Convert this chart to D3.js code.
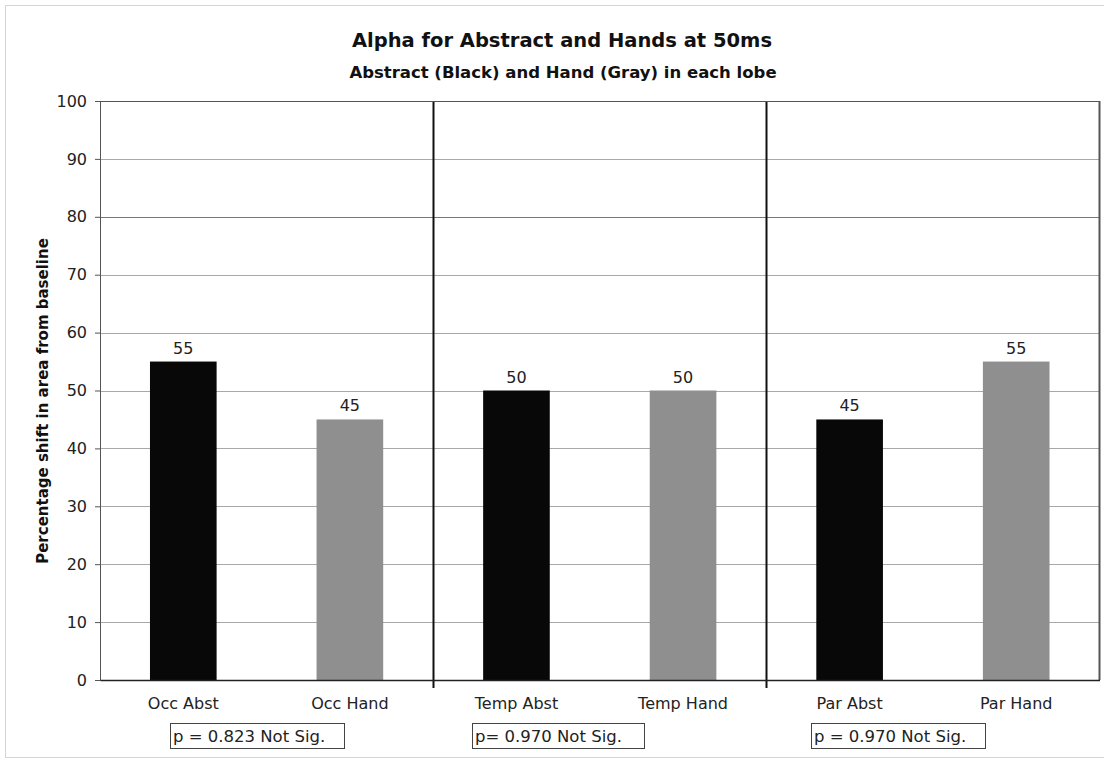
<!DOCTYPE html>
<html>
<head>
<meta charset="utf-8">
<script src="https://cdn.jsdelivr.net/npm/d3@7"></script>
<style>
  html, body { margin: 0; padding: 0; background: #ffffff; }
  svg { display: block; font-family: "DejaVu Sans", Verdana, sans-serif; }
</style>
</head>
<body>
<div id="chart"></div>
<script>
// Data
const categories = ["Occ Abst", "Occ Hand", "Temp Abst", "Temp Hand", "Par Abst", "Par Hand"];
const values = [55, 45, 50, 50, 45, 55];
const barKinds = ["abstract", "hand", "abstract", "hand", "abstract", "hand"];
const yTicks = [0, 10, 20, 30, 40, 50, 60, 70, 80, 90, 100];
const groupNotes = ["p = 0.823 Not Sig.", "p= 0.970 Not Sig.", "p = 0.970 Not Sig."];

const W = 1104, H = 760;
const margin = { top: 101, right: 4, bottom: 80, left: 100 };
const width = W - margin.left - margin.right,
      height = H - margin.top - margin.bottom;

const svg = d3.select("#chart")
    .append("svg")
    .attr("width", W)
    .attr("height", H);

// outer chart frame (dotted)
svg.append("rect")
    .attr("x", 5.5)
    .attr("y", 5.5)
    .attr("width", W + 20)
    .attr("height", H - 8)
    .attr("fill", "#fff")
    .attr("stroke", "#aaa")
    .attr("stroke-dasharray", "1,1");

// Titles
svg.append("text")
    .attr("x", 562)
    .attr("y", 47)
    .attr("text-anchor", "middle")
    .style("font-size", "19.5px")
    .style("font-weight", "bold")
    .style("fill", "#111")
    .text("Alpha for Abstract and Hands at 50ms");

svg.append("text")
    .attr("x", 563)
    .attr("y", 78)
    .attr("text-anchor", "middle")
    .style("font-size", "16.5px")
    .style("font-weight", "bold")
    .style("fill", "#111")
    .text("Abstract (Black) and Hand (Gray) in each lobe");

const g = svg.append("g")
    .attr("transform", `translate(${margin.left},${margin.top})`);

// Scales
const x = d3.scaleBand()
    .domain(categories)
    .range([0, width - 0.5])
    .paddingInner(0.6)
    .paddingOuter(0.3);

const band = (width - 0.5) / categories.length;

const y = d3.scaleLinear()
    .domain([0, 100])
    .range([height, 0]);

// Gridlines
g.selectAll(".grid")
    .data(yTicks.filter(t => t > 0 && t < 100))
    .join("line")
    .attr("class", "grid")
    .attr("x1", 0)
    .attr("x2", width - 0.5)
    .attr("y1", d => Math.round(y(d)) + 0.5)
    .attr("y2", d => Math.round(y(d)) + 0.5)
    .attr("stroke", d => d === 80 ? "#777" : "#a8a8a8")
    .attr("stroke-width", 1);

// Bars
const fillFor = k => k === "abstract" ? "#080808" : "#8f8f8f";

g.selectAll(".bar")
    .data(categories)
    .join("rect")
    .attr("class", "bar")
    .attr("x", d => x(d))
    .attr("width", x.bandwidth())
    .attr("y", (d, i) => y(values[i]))
    .attr("height", (d, i) => height - y(values[i]))
    .attr("fill", (d, i) => fillFor(barKinds[i]));

// Value labels
g.selectAll(".val")
    .data(categories)
    .join("text")
    .attr("class", "val")
    .attr("x", d => x(d) + x.bandwidth() / 2)
    .attr("y", (d, i) => y(values[i]) - 8)
    .attr("text-anchor", "middle")
    .style("font-size", "16px")
    .style("fill", "#222")
    .text((d, i) => values[i]);

// Group separators
g.selectAll(".sep")
    .data([2, 4])
    .join("line")
    .attr("class", "sep")
    .attr("x1", d => Math.round(d * band) + 0.5)
    .attr("x2", d => Math.round(d * band) + 0.5)
    .attr("y1", 0)
    .attr("y2", height + 8)
    .attr("stroke", "#111")
    .attr("stroke-width", 2);

// Plot frame: top and right
g.append("line")
    .attr("x1", 0).attr("x2", width - 0.5)
    .attr("y1", 0.5).attr("y2", 0.5)
    .attr("stroke", "#555");
g.append("line")
    .attr("x1", width - 0.5).attr("x2", width - 0.5)
    .attr("y1", 0).attr("y2", height)
    .attr("stroke", "#555")
    .attr("stroke-width", 2);

// Y axis
const yAxis = g.append("g")
    .call(d3.axisLeft(y).tickValues(yTicks).tickSize(5).tickPadding(8));
yAxis.select(".domain").attr("stroke", "#555");
yAxis.selectAll(".tick line").attr("stroke", "#555");
yAxis.selectAll("text")
    .style("font-size", "16px")
    .style("fill", "#222")
    .style("font-family", "'DejaVu Sans', Verdana, sans-serif");

// X axis
const xAxis = g.append("g")
    .attr("transform", `translate(0,${height})`)
    .call(d3.axisBottom(x).tickSize(0).tickPadding(18));
xAxis.select(".domain").attr("stroke", "#222").attr("stroke-width", 1.5);
xAxis.selectAll("text")
    .style("font-size", "16px")
    .style("fill", "#222")
    .style("font-family", "'DejaVu Sans', Verdana, sans-serif");

// Y axis title
svg.append("text")
    .attr("transform", "rotate(-90)")
    .attr("x", -401)
    .attr("y", 48)
    .attr("text-anchor", "middle")
    .style("font-size", "15px")
    .style("font-weight", "bold")
    .style("fill", "#111")
    .text("Percentage shift in area from baseline");

// p-value boxes
const boxX = [170, 472, 811];
const notes = svg.selectAll(".note")
    .data(groupNotes)
    .join("g")
    .attr("class", "note")
    .attr("transform", (d, i) => `translate(${boxX[i]},723)`);

notes.append("rect")
    .attr("x", 0.5)
    .attr("y", 0.5)
    .attr("width", (d, i) => [174, 172, 174][i])
    .attr("height", 25)
    .attr("fill", "#fff")
    .attr("stroke", "#444");

notes.append("text")
    .attr("x", 3)
    .attr("y", 19)
    .style("font-size", "16.5px")
    .style("fill", "#222")
    .text(d => d);
</script>
</body>
</html>
